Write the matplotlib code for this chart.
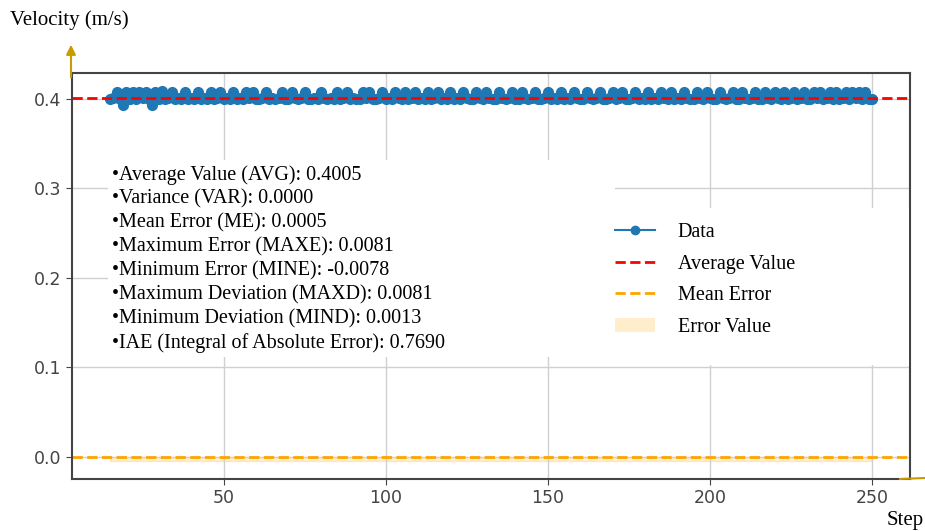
import numpy as np
import matplotlib
matplotlib.use("Agg")
from matplotlib import pyplot as plt
from matplotlib.lines import Line2D
from matplotlib.patches import Patch, Rectangle, FancyArrowPatch

# steps 15..250, velocity readings
steps = np.arange(15, 251)
velocity = [
    0.3998, 0.4003, 0.4078, 0.4001, 0.3930, 0.4075, 0.4002, 0.4080, 0.3999, 0.4076,
    0.4004, 0.4079, 0.4000, 0.3928, 0.4077, 0.4002, 0.4081, 0.4001, 0.4003, 0.4074,
    0.4000, 0.4004, 0.4002, 0.4076, 0.3999, 0.4003, 0.4001, 0.4078, 0.4000, 0.4005,
    0.4002, 0.4075, 0.4001, 0.4004, 0.4079, 0.4000, 0.4003, 0.4002, 0.4077, 0.4001,
    0.4004, 0.4000, 0.4076, 0.4003, 0.4080, 0.4001, 0.4002, 0.4005, 0.4078, 0.4000,
    0.4003, 0.4001, 0.4004, 0.4075, 0.4002, 0.4000, 0.4079, 0.4003, 0.4001, 0.4004,
    0.4077, 0.4000, 0.4002, 0.4005, 0.4001, 0.4078, 0.4003, 0.4000, 0.4004, 0.4002,
    0.4076, 0.4001, 0.4003, 0.4079, 0.4000, 0.4004, 0.4002, 0.4001, 0.4077, 0.4003,
    0.4080, 0.4000, 0.4002, 0.4004, 0.4078, 0.4001, 0.4003, 0.4000, 0.4076, 0.4005,
    0.4002, 0.4079, 0.4001, 0.4003, 0.4077, 0.4000, 0.4004, 0.4002, 0.4080, 0.4001,
    0.4003, 0.4075, 0.4000, 0.4004, 0.4002, 0.4078, 0.4001, 0.4003, 0.4000, 0.4076,
    0.4004, 0.4002, 0.4001, 0.4079, 0.4003, 0.4000, 0.4077, 0.4005, 0.4002, 0.4001,
    0.4080, 0.4003, 0.4000, 0.4004, 0.4076, 0.4002, 0.4001, 0.4078, 0.4003, 0.4000,
    0.4004, 0.4075, 0.4002, 0.4001, 0.4003, 0.4079, 0.4000, 0.4004, 0.4002, 0.4077,
    0.4001, 0.4003, 0.4000, 0.4080, 0.4005, 0.4002, 0.4001, 0.4076, 0.4003, 0.4000,
    0.4004, 0.4078, 0.4002, 0.4001, 0.4003, 0.4075, 0.4000, 0.4004, 0.4079, 0.4002,
    0.4001, 0.4003, 0.4077, 0.4000, 0.4005, 0.4002, 0.4080, 0.4001, 0.4003, 0.4000,
    0.4076, 0.4004, 0.4002, 0.4078, 0.4001, 0.4003, 0.4000, 0.4075, 0.4004, 0.4002,
    0.4001, 0.4079, 0.4003, 0.4000, 0.4077, 0.4005, 0.4002, 0.4001, 0.4080, 0.4003,
    0.4000, 0.4004, 0.4076, 0.4002, 0.4001, 0.4078, 0.4003, 0.4000, 0.4004, 0.4075,
    0.4002, 0.4001, 0.4079, 0.4003, 0.4000, 0.4077, 0.4004, 0.4002, 0.4080, 0.4001,
    0.4003, 0.4076, 0.4000, 0.4005, 0.4078, 0.4002, 0.4001, 0.4075, 0.4003, 0.4079,
    0.4000, 0.4004, 0.4077, 0.4002, 0.4080, 0.4001, 0.4003, 0.4076, 0.4000, 0.4078,
    0.4004, 0.4079, 0.4002, 0.4075, 0.4001, 0.3999,
]

avg_value = 0.4005
mean_error = 0.0005
min_error = -0.0078

stats_lines = [
    "\u2022Average Value (AVG): 0.4005",
    "\u2022Variance (VAR): 0.0000",
    "\u2022Mean Error (ME): 0.0005",
    "\u2022Maximum Error (MAXE): 0.0081",
    "\u2022Minimum Error (MINE): -0.0078",
    "\u2022Maximum Deviation (MAXD): 0.0081",
    "\u2022Minimum Deviation (MIND): 0.0013",
    "\u2022IAE (Integral of Absolute Error): 0.7690",
]
legend_labels = ["Data", "Average Value", "Mean Error", "Error Value"]

serif = ["Liberation Serif", "DejaVu Serif"]
W, H = 925, 531

fig = plt.figure(figsize=(9.25, 5.31), dpi=100)
ax = fig.add_axes([72 / W, 1 - 479 / H, (910 - 72) / W, (479 - 73) / H])

ax.plot(steps, velocity, "o-", color="#1f77b4", markersize=7, linewidth=1.5)
ax.axhline(avg_value, color="red", linestyle="--", linewidth=2)
ax.axhline(mean_error, color="orange", linestyle="--", linewidth=2)
ax.fill_between(steps, min_error / 2, mean_error, color="orange", alpha=0.2)

ax.set_xticks([50, 100, 150, 200, 250])
ax.set_yticks([0.0, 0.1, 0.2, 0.3, 0.4])
ax.grid(True, color="#d0d0d0", linewidth=1)
ax.tick_params(labelsize=12.5, colors="#444444", length=4)
for s in ax.spines.values():
    s.set_color("#444444")
    s.set_linewidth(1.5)

# stats box
fig.patches.append(Rectangle((108 / W, 1 - 357 / H), (615 - 108) / W, (357 - 160) / H,
                             transform=fig.transFigure, facecolor="white",
                             edgecolor="none", zorder=2))
for i, line in enumerate(stats_lines):
    fig.text(112 / W, 1 - (175 + i * 24.0) / H, line, family=serif, fontsize=14.5,
             va="center", ha="left", zorder=3)

# legend box
fig.patches.append(Rectangle((612 / W, 1 - 365 / H), (909 - 612) / W, (365 - 208) / H,
                             transform=fig.transFigure, facecolor="white",
                             edgecolor="none", zorder=2))
handles = [
    Line2D([], [], color="#1f77b4", marker="o", markersize=6, linewidth=1.5),
    Line2D([], [], color="red", linestyle="--", linewidth=2),
    Line2D([], [], color="orange", linestyle="--", linewidth=2),
    Patch(facecolor="orange", alpha=0.2),
]
leg = fig.legend(handles, legend_labels, loc="upper left",
                 bbox_to_anchor=(597 / W, 1 - 205 / H), frameon=False,
                 prop={"family": serif, "size": 14.5}, handlelength=2.0,
                 handletextpad=1.1, labelspacing=0.62)
leg.set_zorder(4)

# axis titles and arrows
fig.text(10 / W, 1 - 20 / H, "Velocity (m/s)", family=serif, fontsize=15,
         va="center", ha="left")
fig.text(887 / W, 1 - 521 / H, "Step", family=serif, fontsize=15,
         va="center", ha="left")
gold = "#c89b00"
fig.add_artist(FancyArrowPatch((71 / W, 1 - 80 / H), (71 / W, 1 - 42 / H),
               transform=fig.transFigure, arrowstyle="-|>", mutation_scale=14,
               color=gold, linewidth=1.5))
fig.add_artist(Line2D([900 / W, 925 / W], [1 - 479 / H, 1 - 478 / H],
               transform=fig.transFigure, color=gold, linewidth=1.5))

fig.savefig("out.png", dpi=100)
